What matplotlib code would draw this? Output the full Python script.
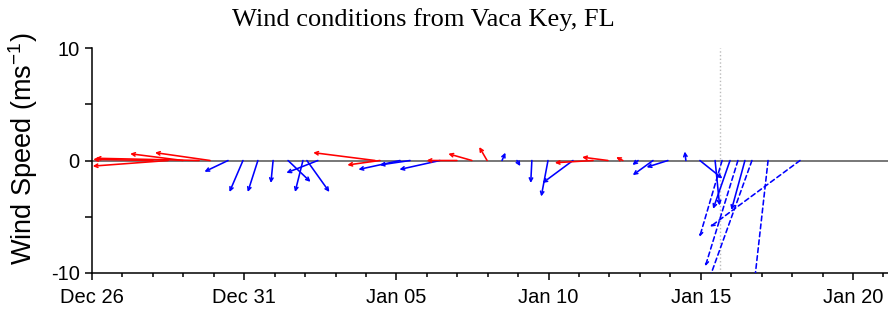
import matplotlib
matplotlib.use("Agg")
import matplotlib.pyplot as plt
import matplotlib.dates as mdates
from matplotlib.patches import FancyArrowPatch
import pandas as pd

# observations: days after Dec 26, wind components (m/s), flag for easterly (red)
obs_day = [2.00, 2.50, 2.99, 3.52, 3.88, 4.47, 4.96, 5.45, 5.95, 6.44, 6.93, 7.06, 7.42,
           9.30, 9.46, 10.12, 10.45, 11.43, 11.99, 12.48, 12.98, 13.47, 13.96, 14.45,
           14.98, 15.80, 16.46, 16.95, 17.44, 17.94, 18.43, 18.92, 19.51, 19.97, 20.47,
           20.96, 21.45]
obs_u = [-5.3, -6.7, -4.7, -9.2, -4.9, -2.1, -1.2, -0.9, -0.2, 2.0, -0.7, 2.0, -2.8,
         -5.5, -2.9, -3.7, -2.7, -3.6, -2.7, -2.1, -0.7, 0.3, 0.3, -0.1,
         -0.6, -2.7, -3.4, -2.3, -0.6, -0.5, -1.8, -1.9, -0.1, 2.0, 0.4,
         -1.5, -1.2]
obs_v = [0.1, -0.5, 0.6, 0.2, 0.7, -1.0, -2.8, -2.8, -2.0, -1.9, -2.8, -2.8, -1.1,
         0.7, -0.4, -0.8, -0.4, -0.8, 0.0, 0.6, 1.2, 0.7, -0.5, -2.0,
         -3.2, -2.0, -0.2, 0.3, 0.3, -0.4, -1.3, -0.6, 0.8, -1.6, -4.0,
         -4.3, -4.4]
obs_east = [1, 1, 1, 1, 1, 0, 0, 0, 0, 0, 0, 0, 0,
            1, 1, 0, 0, 0, 1, 1, 1, 0, 0, 0,
            0, 0, 1, 1, 1, 0, 0, 0, 0, 0, 0,
            0, 0]

# forecast
fc_day = [20.70, 21.22, 21.68, 22.21, 23.26]
fc_u = [-2.0, -2.9, -4.0, -1.2, -8.0]
fc_v = [-6.8, -9.4, -11.1, -10.7, -5.9]

now_day = 20.63
start = pd.Timestamp("2016-12-26")
tick_dates = ["2016-12-26", "2016-12-31", "2017-01-05", "2017-01-10", "2017-01-15", "2017-01-20"]

plt.rcParams["font.family"] = ["Liberation Sans", "DejaVu Sans"]
plt.rcParams["mathtext.default"] = "regular"

fig = plt.figure(figsize=(8.88, 3.16), dpi=100)
ax = fig.add_axes([92 / 888, 43 / 316, 796 / 888, 225 / 316])

x0 = mdates.date2num(start)
ax.set_xlim(x0, x0 + 26.15)
ax.set_ylim(-10, 10)

# days per (m/s) so that sticks keep true direction on screen
p0 = ax.transData.transform((0, 0))
p1 = ax.transData.transform((1, 1))
k = (p1[1] - p0[1]) / (p1[0] - p0[0])

ax.axhline(0, color="#777777", lw=1.4, zorder=1)
ax.axvline(x0 + now_day, color="#bbbbbb", lw=1, ls=":", zorder=1)

for d, u, v, e in zip(obs_day, obs_u, obs_v, obs_east):
    col = "#ff0000" if e else "#0000ff"
    a = FancyArrowPatch((x0 + d, 0), (x0 + d + u * k, v), arrowstyle="->",
                        mutation_scale=6, shrinkA=0, shrinkB=0, color=col, lw=1.15, zorder=3)
    ax.add_patch(a)

for d, u, v in zip(fc_day, fc_u, fc_v):
    a = FancyArrowPatch((x0 + d, 0), (x0 + d + u * k, v), arrowstyle="->",
                        mutation_scale=6, shrinkA=0, shrinkB=0, color="#0000ff", lw=1.15,
                        linestyle=(0, (3, 2)), zorder=3)
    ax.add_patch(a)

ax.spines["top"].set_visible(False)
ax.spines["right"].set_visible(False)
ax.spines["left"].set_linewidth(1.1)
ax.spines["bottom"].set_linewidth(1.1)

ax.set_xticks([mdates.date2num(pd.Timestamp(t)) for t in tick_dates])
ax.xaxis.set_major_formatter(mdates.DateFormatter("%b %d"))
ax.xaxis.set_minor_locator(plt.MultipleLocator(1))
ax.set_yticks([-10, -5, 0, 5, 10])
ax.set_yticklabels(["-10", "", "0", "", "10"])
ax.tick_params(axis="both", which="major", length=5, width=1.1, labelsize=14.5, pad=4)
ax.tick_params(axis="x", which="major", pad=6)
ax.tick_params(axis="x", which="minor", length=3, width=1.1)

fig.text(23 / 888, 1 - 149 / 316, "Wind Speed (ms$^{-1}$)", rotation=90,
         ha="center", va="center", fontsize=19.5)
fig.text(423 / 888, 1 - 20 / 316, "Wind conditions from Vaca Key, FL",
         ha="center", va="center", fontsize=19, family=["Liberation Serif", "DejaVu Serif"])

fig.savefig("out.png", dpi=100)
